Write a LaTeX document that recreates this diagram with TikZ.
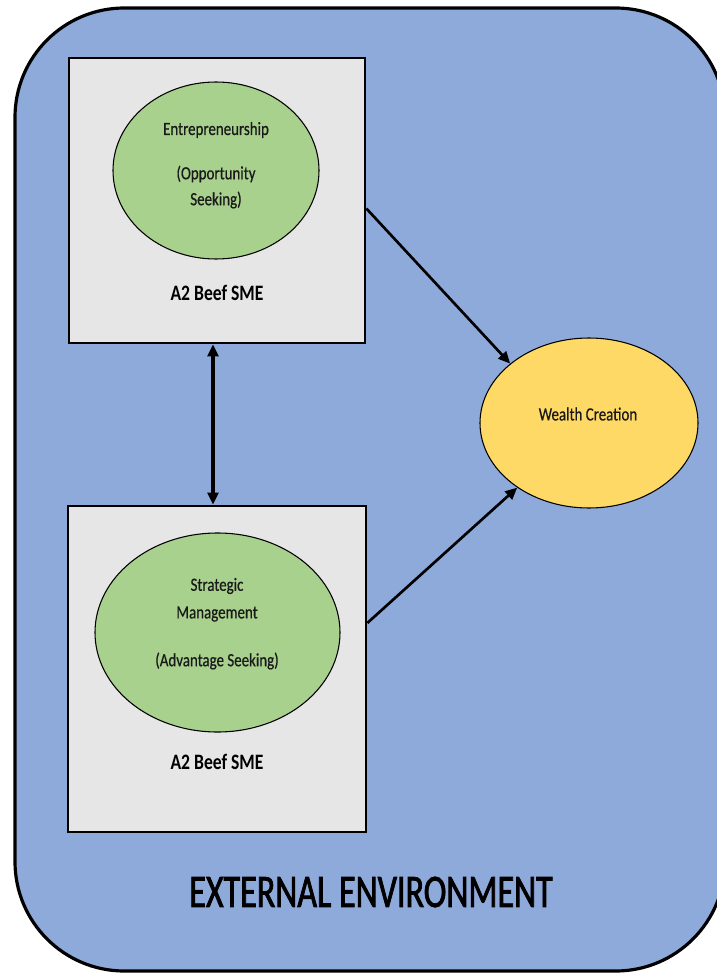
\documentclass[tikz,border=0pt]{standalone}
\usepackage{fontspec}
\setmainfont{Carlito}[FakeStretch=0.8]
\newfontfamily\envfont{Carlito}[FakeStretch=0.73, FakeBold=1.6]
\newfontfamily\ovalfont{Carlito}[FakeStretch=0.8, FakeBold=0.5]
\usetikzlibrary{shapes.geometric,arrows.meta,calc}

\definecolor{envblue}{HTML}{8EAADB}
\definecolor{boxgrey}{HTML}{E6E6E6}
\definecolor{ovalgreen}{HTML}{A9D18E}
\definecolor{ovalyellow}{HTML}{FFD966}

\tikzset{
  smebox/.style={draw=black, line width=2pt, fill=boxgrey, rectangle, inner sep=0pt},
  oval/.style={draw=black, line width=0.8pt, ellipse, inner sep=0pt},
  smalltxt/.style={font=\ovalfont\fontsize{14}{16}\selectfont, inner sep=0pt, text=black!90},
  smelabel/.style={font=\fontsize{16.5}{19}\selectfont\bfseries, inner sep=0pt},
  link/.style={line width=2pt, -{Triangle[length=9pt,width=8pt]}},
  twoway/.style={line width=2.4pt, {Triangle[length=9pt,width=8pt]}-{Triangle[length=9pt,width=8pt]}},
}

\begin{document}
\begin{tikzpicture}[x=0.75pt, y=-0.75pt]
  \useasboundingbox (0,0) rectangle (717,974);

  % external environment
  \draw[fill=envblue, line width=2.4pt, rounded corners=82pt] (15,8) rectangle (725,971);
  \node[font=\envfont\fontsize{35}{40}\selectfont, inner sep=0pt] (env) at (371,892) {EXTERNAL ENVIRONMENT};

  % upper SME box
  \node[smebox, minimum width=222pt, minimum height=213.75pt] (topbox) at (217,200.5) {};
  \node[oval, fill=ovalgreen, minimum width=154.5pt, minimum height=132.75pt] (entre) at (216,170.5) {};
  \node[smalltxt] (entreA) at (216,130) {Entrepreneurship};
  \node[smalltxt] (entreB) at (216,174) {(Opportunity};
  \node[smalltxt] (entreC) at (216,200) {Seeking)};
  \node[smelabel] (smeA) at (217,293) {A2 Beef SME};

  % lower SME box
  \node[smebox, minimum width=223.5pt, minimum height=244.5pt] (botbox) at (217,669) {};
  \node[oval, fill=ovalgreen, minimum width=183.75pt, minimum height=149.25pt] (strat) at (217.5,632.5) {};
  \node[smalltxt] (stratA) at (217,586) {Strategic};
  \node[smalltxt] (stratB) at (217,614) {Management};
  \node[smalltxt] (stratC) at (217,661) {(Advantage Seeking)};
  \node[smelabel] (smeB) at (217,762) {A2 Beef SME};

  % outcome
  \node[oval, fill=ovalyellow, minimum width=163.5pt, minimum height=127.5pt] (wealth) at (589,423) {};
  \node[smalltxt] (wealthtxt) at (588,414) {Wealth Creation};

  % connectors
  \draw[link] ($(topbox.east)+(0,8)$) -- (wealth.143);
  \draw[link] ($(botbox.east)+(0,-46)$) -- (wealth.222);
  \draw[twoway] ($(topbox.south)+(-4,0)$) -- ($(botbox.north)+(-4,0)$);
\end{tikzpicture}
\end{document}
